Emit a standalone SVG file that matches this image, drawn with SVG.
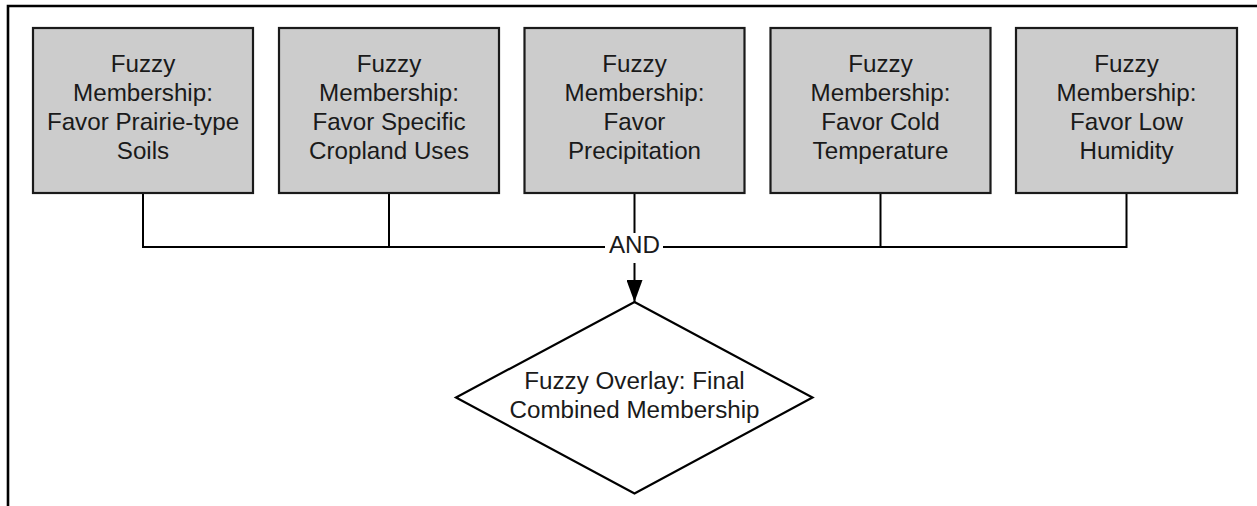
<svg xmlns="http://www.w3.org/2000/svg" width="1257" height="506" viewBox="0 0 1257 506">
  <style>
    .box { fill: #cccccc; stroke: #1a1a1a; stroke-width: 2.2; }
    .diamond { fill: #ffffff; stroke: #000000; stroke-width: 2.2; }
    .lbl { font-family: "Liberation Sans", Arial, sans-serif; font-size: 24.2px; fill: #1a1a1a; text-anchor: middle; }
    .wire { fill: none; stroke: #000000; stroke-width: 2; }
    .frame { fill: none; stroke: #000000; stroke-width: 2.6; }
  </style>
  <defs>
    <marker id="arrow" markerWidth="22" markerHeight="16" refX="22" refY="8" orient="auto" markerUnits="userSpaceOnUse" viewBox="0 0 22 16">
      <path d="M0,0 L22,8 L0,16 Z" fill="#000000"/>
    </marker>
  </defs>

  <rect width="1257" height="506" fill="#ffffff"/>
  <path class="frame" d="M8,506 V6 H1257"/>

  <g id="connectors">
    <path class="wire" d="M143,193 V247 H605"/>
    <path class="wire" d="M663,247 H1126.5 V193"/>
    <path class="wire" d="M389,193 V247"/>
    <path class="wire" d="M880.5,193 V247"/>
    <path class="wire" d="M634.5,193 V233"/>
    <path class="wire" d="M634.5,263 V302" marker-end="url(#arrow)"/>
    <text class="lbl" x="634.5" y="253">AND</text>
  </g>

  <g id="soils">
    <rect class="box" x="33" y="28" width="220" height="165"/>
    <text class="lbl" x="143" y="71.5">Fuzzy<tspan x="143" dy="29.3">Membership:</tspan><tspan x="143" dy="29.3">Favor Prairie-type</tspan><tspan x="143" dy="29.3">Soils</tspan></text>
  </g>

  <g id="cropland">
    <rect class="box" x="279" y="28" width="220" height="165"/>
    <text class="lbl" x="389" y="71.5">Fuzzy<tspan x="389" dy="29.3">Membership:</tspan><tspan x="389" dy="29.3">Favor Specific</tspan><tspan x="389" dy="29.3">Cropland Uses</tspan></text>
  </g>

  <g id="precipitation">
    <rect class="box" x="524.5" y="28" width="220" height="165"/>
    <text class="lbl" x="634.5" y="71.5">Fuzzy<tspan x="634.5" dy="29.3">Membership:</tspan><tspan x="634.5" dy="29.3">Favor</tspan><tspan x="634.5" dy="29.3">Precipitation</tspan></text>
  </g>

  <g id="temperature">
    <rect class="box" x="770.5" y="28" width="220" height="165"/>
    <text class="lbl" x="880.5" y="71.5">Fuzzy<tspan x="880.5" dy="29.3">Membership:</tspan><tspan x="880.5" dy="29.3">Favor Cold</tspan><tspan x="880.5" dy="29.3">Temperature</tspan></text>
  </g>

  <g id="humidity">
    <rect class="box" x="1016" y="28" width="221" height="165"/>
    <text class="lbl" x="1126.5" y="71.5">Fuzzy<tspan x="1126.5" dy="29.3">Membership:</tspan><tspan x="1126.5" dy="29.3">Favor Low</tspan><tspan x="1126.5" dy="29.3">Humidity</tspan></text>
  </g>

  <g id="overlay">
    <path class="diamond" d="M634.5,302 L812.5,397.5 L634.5,493.5 L456,397.5 Z"/>
    <text class="lbl" x="634.5" y="389">Fuzzy Overlay: Final<tspan x="634.5" dy="29">Combined Membership</tspan></text>
  </g>
</svg>
